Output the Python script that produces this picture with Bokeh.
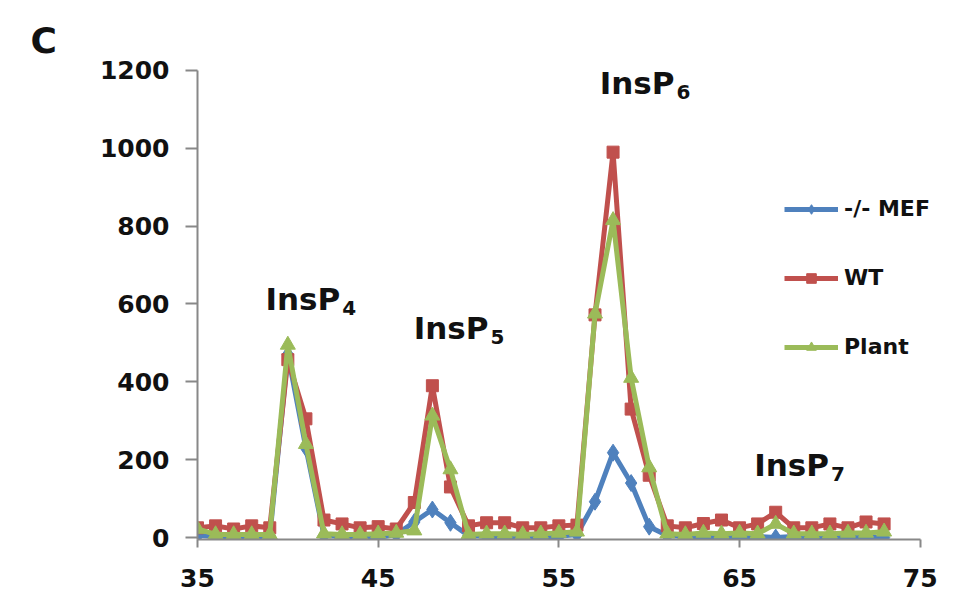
from bokeh.plotting import figure
from bokeh.models import Range1d, Legend, LegendItem, Label, FixedTicker
from bokeh.embed import file_html
from bokeh.resources import INLINE

# ---- data ----
fractions = list(range(35, 74))
mef = [5, 3, 3, 3, 3, 470, 230, 5, 3, 3, 0, 8, 40, 72, 38, 5, 3, 0, 3, 3,
       3, 8, 92, 218, 140, 28, 5, 3, 3, 0, 3, 3, 0, 3, 3, 0, 3, 3, 0]
wt = [25, 30, 22, 30, 25, 457, 305, 45, 35, 25, 28, 22, 90, 390, 130, 30, 38, 38, 25, 25,
      30, 32, 572, 990, 330, 160, 30, 25, 36, 45, 25, 35, 65, 25, 25, 35, 25, 40, 35]
plant = [22, 8, 8, 8, 8, 495, 240, 10, 8, 8, 10, 12, 18, 313, 175, 8, 10, 10, 8, 10,
         12, 15, 575, 815, 410, 180, 10, 8, 12, 10, 12, 10, 35, 10, 10, 10, 12, 12, 15]
series_names = ["-/- MEF", "WT", "Plant"]
x_ticks = [35, 45, 55, 65, 75]
y_ticks = [0, 200, 400, 600, 800, 1000, 1200]
peak_base = "InsP"
peak_subscripts = ["4", "5", "6", "7"]
panel_letter = "C"

FONT = "DejaVu Sans"
TXT = "#111111"
colors = ["#4F81BD", "#C0504D", "#9BBB59"]
markers = ["diamond", "square", "triangle"]
msizes = [17, 12, 15]

p = figure(width=966, height=598, output_backend="svg", toolbar_location=None,
           x_range=Range1d(35, 75.9), y_range=Range1d(-5, 1210),
           min_border_left=197, min_border_right=30, min_border_top=66, min_border_bottom=59)
p.grid.visible = False
p.outline_line_color = None
p.background_fill_color = "white"

p.title.text = panel_letter
p.title.align = "left"
p.title.offset = -167
p.title.standoff = 11
p.title.text_font = FONT
p.title.text_font_style = "bold"
p.title.text_font_size = "36px"
p.title.text_color = TXT

for ax in (p.xaxis[0], p.yaxis[0]):
    ax.axis_line_color = "#888888"
    ax.axis_line_width = 2
    ax.major_tick_line_color = "#888888"
    ax.major_tick_line_width = 2
    ax.major_tick_in = 0
    ax.minor_tick_line_color = None
    ax.major_label_text_font = FONT
    ax.major_label_text_font_style = "bold"
    ax.major_label_text_font_size = "25px"
    ax.major_label_text_color = TXT

p.xaxis[0].bounds = (35, 75)
p.xaxis[0].ticker = FixedTicker(ticks=x_ticks)
p.xaxis[0].major_tick_out = 8
p.xaxis[0].major_label_standoff = 21

p.yaxis[0].bounds = (-5, 1200)
p.yaxis[0].ticker = FixedTicker(ticks=y_ticks)
p.yaxis[0].major_tick_out = 12
p.yaxis[0].major_label_standoff = 16

items = []
for name, ys, c, m, s in zip(series_names, [mef, wt, plant], colors, markers, msizes):
    ln = p.line(fractions, ys, line_color=c, line_width=5)
    sc = p.scatter(fractions, ys, marker=m, size=s, fill_color=c, line_color=c)
    items.append(LegendItem(label=name, renderers=[ln, sc]))

legend = Legend(items=items, location=(587, 180))
legend.label_text_font = FONT
legend.label_text_font_style = "bold"
legend.label_text_font_size = "22px"
legend.label_text_color = TXT
legend.glyph_width = 54
legend.glyph_height = 24
legend.label_height = 24
legend.spacing = 44
legend.padding = 0
legend.margin = 0
legend.label_standoff = 6
legend.background_fill_alpha = 0
legend.border_line_alpha = 0
p.add_layout(legend)

# peak annotations (anchor = end of "InsP", baseline)
anchors = [(42.9, 613), (51.1, 539), (61.4, 1168), (69.95, 187)]
for (ax_, ay_), sub in zip(anchors, peak_subscripts):
    p.add_layout(Label(x=ax_, y=ay_, text=peak_base, text_align="right", text_baseline="alphabetic",
                       text_font=FONT, text_font_style="bold", text_font_size="31px", text_color=TXT))
    p.add_layout(Label(x=ax_, y=ay_ - 23, text=sub, text_align="left", text_baseline="alphabetic",
                       x_offset=2, text_font=FONT, text_font_style="bold", text_font_size="20px",
                       text_color=TXT))

open("out.html", "w").write(file_html(p, INLINE))
